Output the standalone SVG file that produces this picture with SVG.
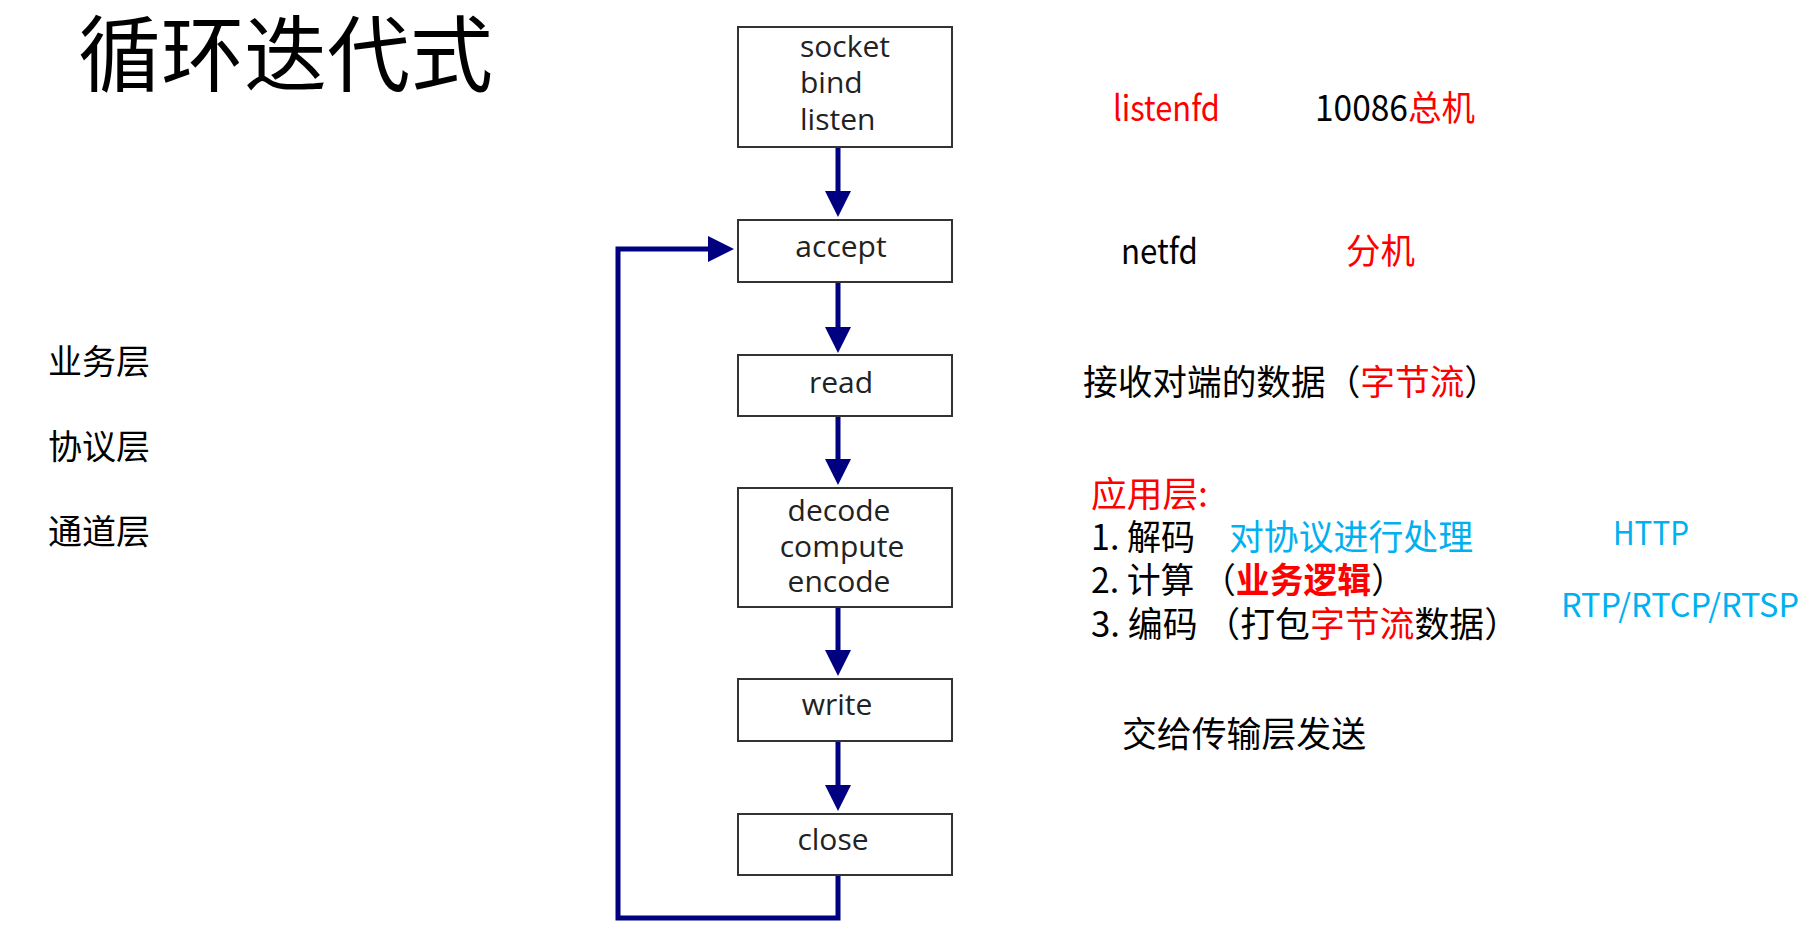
<svg xmlns="http://www.w3.org/2000/svg" width="1805" height="940" viewBox="0 0 1805 940">
<style>
.box{fill:#fff;stroke:#333;stroke-width:2}
.bt{font-family:"Open Sans","Noto Sans",sans-serif;font-size:30px;fill:#222;text-anchor:middle}
.bl{font-family:"Open Sans","Noto Sans",sans-serif;font-size:30px;fill:#222;text-anchor:start}
.cn{font-family:"Noto Sans CJK SC",sans-serif;fill:#000}
.t36{font-size:35px}
.red{fill:#ff0000}
.blue{fill:#00b0f0}
.conn{stroke:#000080;stroke-width:5;fill:none}
</style>
<defs>
<marker id="ah" markerUnits="userSpaceOnUse" viewBox="0 0 26 26" refX="4" refY="13" markerWidth="26" markerHeight="26" orient="auto">
<path d="M0,0 L26,13 L0,26 z" fill="#000080"/>
</marker>
</defs>
<rect width="1805" height="940" fill="#fff"/>

<text class="cn" x="78" y="85" font-size="83">循环迭代式</text>

<g id="left-labels">
<text class="cn" x="48" y="374" font-size="34">业务层</text>
<text class="cn" x="48" y="459" font-size="34">协议层</text>
<text class="cn" x="48" y="544" font-size="34">通道层</text>
</g>

<g id="connectors">
<line class="conn" x1="838" y1="147" x2="838" y2="195" marker-end="url(#ah)"/>
<line class="conn" x1="838" y1="282" x2="838" y2="331" marker-end="url(#ah)"/>
<line class="conn" x1="838" y1="416" x2="838" y2="463" marker-end="url(#ah)"/>
<line class="conn" x1="838" y1="607" x2="838" y2="654" marker-end="url(#ah)"/>
<line class="conn" x1="838" y1="741" x2="838" y2="789" marker-end="url(#ah)"/>
<path class="conn" d="M838 875 V918 H618 V249 H712" marker-end="url(#ah)"/>
</g>

<g id="n-socket">
<rect class="box" x="738" y="27" width="214" height="120"/>
<text class="bl" x="800" y="57">socket</text>
<text class="bl" x="800" y="93">bind</text>
<text class="bl" x="800" y="130">listen</text>
</g>
<g id="n-accept">
<rect class="box" x="738" y="220" width="214" height="62"/>
<text class="bt" x="841" y="257">accept</text>
</g>
<g id="n-read">
<rect class="box" x="738" y="355" width="214" height="61"/>
<text class="bt" x="841" y="393">read</text>
</g>
<g id="n-decode">
<rect class="box" x="738" y="488" width="214" height="119"/>
<text class="bt" x="839" y="521">decode</text>
<text class="bt" x="842" y="557">compute</text>
<text class="bt" x="839" y="592">encode</text>
</g>
<g id="n-write">
<rect class="box" x="738" y="679" width="214" height="62"/>
<text class="bt" x="837" y="715">write</text>
</g>
<g id="n-close">
<rect class="box" x="738" y="814" width="214" height="61"/>
<text class="bt" x="833" y="850">close</text>
</g>

<g id="notes">
<text class="cn t36 red" x="1113" y="121" textLength="107" lengthAdjust="spacingAndGlyphs">listenfd</text>
<text class="cn t36" x="1315" y="121" textLength="160" lengthAdjust="spacingAndGlyphs">10086<tspan class="red">总机</tspan></text>
<text class="cn t36" x="1121" y="264" textLength="77" lengthAdjust="spacingAndGlyphs">netfd</text>
<text class="cn t36 red" x="1346" y="264" textLength="69" lengthAdjust="spacingAndGlyphs">分机</text>
<text class="cn t36" x="1083" y="395" textLength="416" lengthAdjust="spacingAndGlyphs">接收对端的数据（<tspan class="red">字节流</tspan>）</text>
<text class="cn t36 red" x="1091" y="507" textLength="117" lengthAdjust="spacingAndGlyphs">应用层:</text>
<text class="cn t36" x="1091" y="550" textLength="104" lengthAdjust="spacingAndGlyphs">1. 解码</text>
<text class="cn t36 blue" x="1229" y="550" textLength="244" lengthAdjust="spacingAndGlyphs">对协议进行处理</text>
<text class="cn blue" x="1613" y="545" font-size="32" textLength="76" lengthAdjust="spacingAndGlyphs">HTTP</text>
<text class="cn t36" x="1091" y="593" textLength="314" lengthAdjust="spacingAndGlyphs">2. 计算 （<tspan class="red" font-weight="bold">业务逻辑</tspan>）</text>
<text class="cn t36" x="1091" y="637" textLength="428" lengthAdjust="spacingAndGlyphs">3. 编码 （打包<tspan class="red">字节流</tspan>数据）</text>
<text class="cn blue" x="1561" y="617" font-size="32" textLength="238" lengthAdjust="spacingAndGlyphs">RTP/RTCP/RTSP</text>
<text class="cn t36" x="1122" y="747" textLength="244" lengthAdjust="spacingAndGlyphs">交给传输层发送</text>
</g>
</svg>
